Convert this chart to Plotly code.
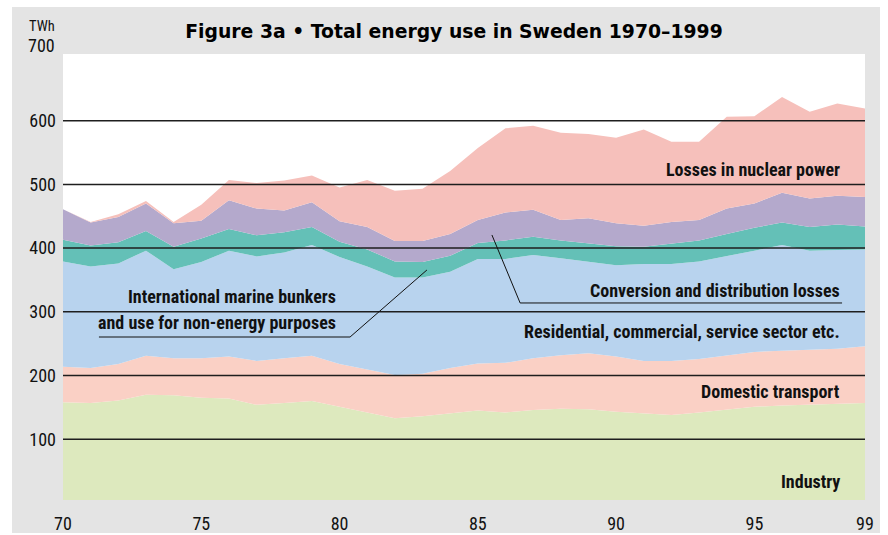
import plotly.graph_objects as go

years = list(range(1970, 2000))

industry = [158, 157, 161, 170, 169, 165, 164, 154, 157, 160, 151, 142, 133, 136, 141,
            145, 142, 146, 148, 147, 143, 141, 138, 142, 147, 151, 153, 154, 155, 157]
transport = [56, 55, 57, 61, 58, 62, 66, 69, 70, 71, 67, 67, 68, 67, 71,
             74, 78, 81, 84, 88, 87, 82, 85, 84, 84, 86, 86, 86, 87, 89]
residential = [165, 159, 158, 165, 140, 151, 166, 164, 166, 174, 168, 162, 153, 151, 151,
               164, 163, 162, 152, 144, 143, 152, 152, 153, 156, 159, 166, 156, 155, 152]
bunkers = [34, 33, 33, 31, 35, 37, 34, 33, 32, 28, 24, 27, 25, 24, 25,
           25, 29, 29, 28, 28, 30, 27, 32, 33, 35, 36, 35, 37, 40, 36]
conversion = [48, 36, 40, 43, 37, 28, 45, 42, 34, 39, 32, 35, 32, 33, 34,
              36, 44, 42, 32, 40, 36, 33, 34, 32, 40, 38, 47, 45, 45, 46]
nuclear = [0, 1, 4, 4, 2, 25, 32, 40, 47, 42, 53, 74, 79, 82, 99,
           113, 132, 132, 137, 132, 134, 151, 126, 123, 144, 137, 150, 136, 145, 139]

series_names = ["Industry", "Domestic transport", "Residential, commercial, service sector etc.",
                "International marine bunkers and use for non-energy purposes",
                "Conversion and distribution losses", "Losses in nuclear power"]
series_values = [industry, transport, residential, bunkers, conversion, nuclear]
colors = ["#dde9be", "#fad0c5", "#b8d3ee", "#64c0b7", "#b4a9cc", "#f6c0bb"]

x_tickvals = [1970, 1975, 1980, 1985, 1990, 1995, 1999]
x_ticktext = ["70", "75", "80", "85", "90", "95", "99"]
y_tickvals = [100, 200, 300, 400, 500, 600]
y_ticktext = ["100", "200", "300", "400", "500", "600"]

title_text = "Figure 3a \u2022 Total energy use in Sweden 1970\u20131999"
unit_text = "TWh"

NARROW = "Liberation Sans Narrow, Roboto Condensed, Lato, sans-serif"
WIDE = "DejaVu Sans, Liberation Sans, sans-serif"
GRAY = "#e4e4e4"

fig = go.Figure()
for name, vals, col in zip(series_names, series_values, colors):
    fig.add_trace(go.Scatter(
        x=years, y=vals, name=name, stackgroup="one", mode="lines",
        line=dict(width=0, color=col), fillcolor=col, hoverinfo="x+y+name"))

# figure geometry (pixels)
W, H = 888, 535
L, R, T, B = 63, 865, 54, 500
def px_x(p):
    return (p - L) / (R - L)
def px_y(p):
    return (B - p) / (B - T)

shapes = []
# white outer border around the grey panel
for (x0, x1, y0, y1) in [(0, 12, 0, H), (880, W, 0, H), (0, W, 0, 7), (0, W, 533, H)]:
    shapes.append(dict(type="rect", xref="paper", yref="paper",
                       x0=px_x(x0), x1=px_x(x1), y0=px_y(y1), y1=px_y(y0),
                       fillcolor="white", line=dict(width=0), layer="below"))
# gridlines drawn above the areas
for v in y_tickvals:
    shapes.append(dict(type="line", xref="paper", yref="y", x0=0, x1=1, y0=v, y1=v,
                       line=dict(color="#1e1e1e", width=1.5), layer="above"))
# leader lines
lead = dict(color="#111111", width=1)
shapes.append(dict(type="path", xref="x", yref="y",
                   path="M 1971.3,260.5 L 1980.38,260.5 L 1983.16,365.7",
                   line=lead, layer="above"))
shapes.append(dict(type="path", xref="x", yref="y",
                   path="M 1998.17,313.9 L 1986.53,313.9 L 1985.51,420.6",
                   line=lead, layer="above"))

lab_font = dict(family=NARROW, size=18, color="#111111")
annotations = []
labels = [
    ("Losses in nuclear power", 1998.17, 522.6),
    ("Conversion and distribution losses", 1998.17, 332.7),
    ("Residential, commercial, service sector etc.", 1998.17, 268.4),
    ("Domestic transport", 1998.17, 174.2),
    ("Industry", 1998.17, 33),
    ("International marine bunkers", 1979.94, 323.3),
    ("and use for non-energy purposes", 1979.94, 282.5),
]
for txt, xx, yy in labels:
    annotations.append(dict(text="<b>%s</b>" % txt, x=xx, y=yy, xref="x", yref="y",
                            xanchor="right", yanchor="middle", showarrow=False,
                            font=lab_font))
annotations.append(dict(text=unit_text, xref="paper", yref="paper", x=px_x(57), y=px_y(27),
                        xanchor="right", yanchor="middle", showarrow=False,
                        font=dict(family=NARROW, size=14.5, color="#111111")))
annotations.append(dict(text="700", xref="paper", yref="paper", x=px_x(57), y=px_y(45.5),
                        xanchor="right", yanchor="middle", showarrow=False,
                        font=dict(family=NARROW, size=18, color="#111111")))

fig.update_layout(
    width=W, height=H,
    margin=dict(l=L, r=W - R, t=T, b=H - B, pad=0, autoexpand=False),
    paper_bgcolor=GRAY, plot_bgcolor="white",
    showlegend=False,
    title=dict(text="<b>%s</b>" % title_text, x=px_x(454), xref="paper", xanchor="center",
               y=1 - 31.5 / H, yref="container", yanchor="middle",
               font=dict(family=WIDE, size=18.8, color="#000000")),
    xaxis=dict(range=[1970, 1999], tickvals=x_tickvals, ticktext=x_ticktext,
               showgrid=False, zeroline=False, showline=False, ticks="",
               automargin=False, ticklabelstandoff=11,
               tickfont=dict(family=NARROW, size=18, color="#111111")),
    yaxis=dict(range=[4.7, 704.6], tickvals=y_tickvals, ticktext=y_ticktext,
               showgrid=False, zeroline=False, showline=False, ticks="",
               automargin=False, ticklabelstandoff=6,
               tickfont=dict(family=NARROW, size=18, color="#111111")),
    shapes=shapes, annotations=annotations,
)

fig.write_html("out.html",
               config={"displayModeBar": False},
               post_script="document.body.style.margin='0';document.body.style.overflow='hidden';")
